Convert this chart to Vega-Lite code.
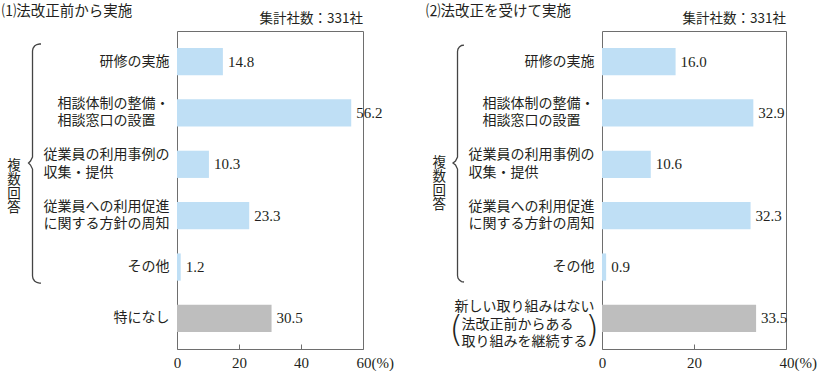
{
  "$schema": "https://vega.github.io/schema/vega-lite/v6.json",
  "padding": {"left": 1, "top": 3, "right": 0, "bottom": 0},
  "spacing": 31,
  "datasets": {
    "leftBars": [
      {"cat": "研修の実施", "value": 14.8, "kind": "multi"},
      {"cat": "相談体制の整備・|相談窓口の設置\u3000\u200b", "value": 56.2, "kind": "multi"},
      {"cat": "従業員の利用事例の|収集・提供\u3000\u3000\u3000\u3000\u200b", "value": 10.3, "kind": "multi"},
      {"cat": "従業員への利用促進|に関する方針の周知", "value": 23.3, "kind": "multi"},
      {"cat": "その他", "value": 1.2, "kind": "multi"},
      {"cat": "特になし", "value": 30.5, "kind": "none"}
    ],
    "rightBars": [
      {"cat": "研修の実施", "value": 16.0, "kind": "multi"},
      {"cat": "相談体制の整備・|相談窓口の設置\u3000\u200b", "value": 32.9, "kind": "multi"},
      {"cat": "従業員の利用事例の|収集・提供\u3000\u3000\u3000\u3000\u200b", "value": 10.6, "kind": "multi"},
      {"cat": "従業員への利用促進|に関する方針の周知", "value": 32.3, "kind": "multi"},
      {"cat": "その他", "value": 0.9, "kind": "multi"},
      {"cat": "新しい取り組みはない|法改正前からある\u3000\u2002\u200b|取り組みを継続する\u2002\u200b", "value": 33.5, "kind": "none"}
    ],
    "leftBrace": [
      {"i": 1, "x": -43.87, "y": 0.658},
      {"i": 2, "x": -44.35, "y": 0.658},
      {"i": 3, "x": -45.22, "y": 0.668},
      {"i": 4, "x": -45.95, "y": 0.698},
      {"i": 5, "x": -46.44, "y": 0.742},
      {"i": 6, "x": -46.61, "y": 0.794},
      {"i": 7, "x": -46.61, "y": 2.858},
      {"i": 8, "x": -47.26, "y": 2.936},
      {"i": 9, "x": -47.90, "y": 2.975},
      {"i": 10, "x": -47.26, "y": 3.014},
      {"i": 11, "x": -46.61, "y": 3.092},
      {"i": 12, "x": -46.61, "y": 5.174},
      {"i": 13, "x": -46.44, "y": 5.227},
      {"i": 14, "x": -45.95, "y": 5.271},
      {"i": 15, "x": -45.22, "y": 5.300},
      {"i": 16, "x": -44.35, "y": 5.311},
      {"i": 17, "x": -43.87, "y": 5.311}
    ],
    "rightBrace": [
      {"i": 1, "x": -30.0, "y": 0.678},
      {"i": 2, "x": -30.54, "y": 0.687},
      {"i": 3, "x": -31.0, "y": 0.715},
      {"i": 4, "x": -31.31, "y": 0.756},
      {"i": 5, "x": -31.41, "y": 0.804},
      {"i": 6, "x": -31.41, "y": 2.858},
      {"i": 7, "x": -31.85, "y": 2.936},
      {"i": 8, "x": -32.39, "y": 2.975},
      {"i": 9, "x": -31.85, "y": 3.014},
      {"i": 10, "x": -31.41, "y": 3.092},
      {"i": 11, "x": -31.41, "y": 5.165},
      {"i": 12, "x": -31.31, "y": 5.213},
      {"i": 13, "x": -31.0, "y": 5.254},
      {"i": 14, "x": -30.54, "y": 5.282},
      {"i": 15, "x": -30.0, "y": 5.291}
    ],
    "leftNote": [{"t": "複\n数\n回\n答", "x": -52.6, "y": 3.03}],
    "rightNote": [{"t": "複\n数\n回\n答", "x": -35.4, "y": 2.965}],
    "rightParens": [
      {"t": "(", "x": -31.7, "y": 6.225},
      {"t": ")", "x": -2.17, "y": 6.225}
    ]
  },
  "hconcat": [
    {
      "title": {"text": "⑴法改正前から実施", "anchor": "start", "frame": "bounds", "dx": -5, "fontSize": 14.5, "offset": -8},
      "hconcat": [
        {
          "width": 186,
          "height": 318,
          "title": {"text": "集計社数：331社", "anchor": "end", "frame": "group", "fontSize": 13.5, "offset": 6},
          "layer": [
            {
              "data": {"name": "leftBars"},
              "layer": [
                {
                  "mark": {"type": "bar"},
                  "encoding": {
                    "y": {"field": "cat", "type": "nominal", "sort": null,
                      "scale": {"paddingInner": 0.47, "paddingOuter": 0.33},
                      "axis": {"title": null, "domain": false, "ticks": false, "labelExpr": "split(datum.label, '|')",
                        "labelFontSize": 14, "labelFont": "Noto Sans CJK JP", "labelLineHeight": 17.5, "labelPadding": 8, "labelLimit": 0,
                        "labelOffset": {"condition": {"test": "indexof(datum.value, '|') >= 0", "value": -9}, "value": 0}}},
                    "x": {"field": "value", "type": "quantitative", "scale": {"domain": [0, 60], "nice": false},
                      "axis": {"title": null, "values": [0, 20, 40, 60], "domain": false, "grid": false, "tickSize": -5, "tickColor": "#6e6e6e",
                        "labelExpr": "datum.value == 60 ? '60(%)' : datum.label",
                        "labelAlign": {"condition": {"test": "datum.value == 60", "value": "left"}, "value": "center"},
                        "labelOffset": {"condition": {"test": "datum.value == 60", "value": -7}, "value": 0},
                        "labelFont": "Liberation Sans Narrow", "labelFontSize": 15, "labelPadding": 11, "labelFlush": false}},
                    "color": {"field": "kind", "type": "nominal", "scale": {"domain": ["multi", "none"], "range": ["#bfdff5", "#bebebe"]}, "legend": null}
                  }
                },
                {
                  "mark": {"type": "text", "align": "left", "baseline": "middle", "dx": 5, "font": "Liberation Sans Narrow", "fontSize": 15},
                  "encoding": {
                    "y": {"field": "cat", "type": "nominal", "sort": null},
                    "x": {"field": "value", "type": "quantitative"},
                    "text": {"field": "value", "type": "quantitative", "format": ".1f"}
                  }
                }
              ]
            },
            {
              "layer": [
                {
                  "data": {"name": "leftBrace"},
                  "mark": {"type": "line", "stroke": "#444444", "strokeWidth": 1.3},
                  "encoding": {
                    "x": {"field": "x", "type": "quantitative", "scale": {"domain": [0, 60], "nice": false}, "axis": null},
                    "y": {"field": "y", "type": "quantitative", "scale": {"domain": [0.405, 6.595], "reverse": true, "nice": false, "zero": false}, "axis": null},
                    "order": {"field": "i", "type": "quantitative"}
                  }
                },
                {
                  "data": {"name": "leftNote"},
                  "mark": {"type": "text", "align": "center", "baseline": "middle", "lineBreak": "\n", "lineHeight": 14, "fontSize": 13.5, "font": "Noto Sans CJK JP"},
                  "encoding": {
                    "x": {"field": "x", "type": "quantitative"},
                    "y": {"field": "y", "type": "quantitative"},
                    "text": {"field": "t"}
                  }
                }
              ]
            }
          ],
          "resolve": {"scale": {"x": "independent", "y": "independent"}}
        }
      ]
    },
    {
      "title": {"text": "⑵法改正を受けて実施", "anchor": "start", "frame": "bounds", "dx": -6, "fontSize": 14.5, "offset": -8},
      "hconcat": [
        {
          "width": 184,
          "height": 318,
          "title": {"text": "集計社数：331社", "anchor": "end", "frame": "group", "fontSize": 13.5, "offset": 6},
          "layer": [
            {
              "data": {"name": "rightBars"},
              "layer": [
                {
                  "mark": {"type": "bar"},
                  "encoding": {
                    "y": {"field": "cat", "type": "nominal", "sort": null,
                      "scale": {"paddingInner": 0.47, "paddingOuter": 0.33},
                      "axis": {"title": null, "domain": false, "ticks": false, "labelExpr": "split(datum.label, '|')",
                        "labelFontSize": 14, "labelFont": "Noto Sans CJK JP", "labelLineHeight": 17.5, "labelPadding": 8, "labelLimit": 0,
                        "labelOffset": {"condition": [
                          {"test": "indexof(datum.value, '新しい') >= 0", "value": -11},
                          {"test": "indexof(datum.value, '|') >= 0", "value": -9}
                        ], "value": 0}}},
                    "x": {"field": "value", "type": "quantitative", "scale": {"domain": [0, 40], "nice": false},
                      "axis": {"title": null, "values": [0, 20, 40], "domain": false, "grid": false, "tickSize": -5, "tickColor": "#6e6e6e",
                        "labelExpr": "datum.value == 40 ? '40(%)' : datum.label",
                        "labelAlign": {"condition": {"test": "datum.value == 40", "value": "left"}, "value": "center"},
                        "labelOffset": {"condition": {"test": "datum.value == 40", "value": -7}, "value": 0},
                        "labelFont": "Liberation Sans Narrow", "labelFontSize": 15, "labelPadding": 11, "labelFlush": false}},
                    "color": {"field": "kind", "type": "nominal", "scale": {"domain": ["multi", "none"], "range": ["#bfdff5", "#bebebe"]}, "legend": null}
                  }
                },
                {
                  "mark": {"type": "text", "align": "left", "baseline": "middle", "dx": 5, "font": "Liberation Sans Narrow", "fontSize": 15},
                  "encoding": {
                    "y": {"field": "cat", "type": "nominal", "sort": null},
                    "x": {"field": "value", "type": "quantitative"},
                    "text": {"field": "value", "type": "quantitative", "format": ".1f"}
                  }
                }
              ]
            },
            {
              "layer": [
                {
                  "data": {"name": "rightBrace"},
                  "mark": {"type": "line", "stroke": "#444444", "strokeWidth": 1.3},
                  "encoding": {
                    "x": {"field": "x", "type": "quantitative", "scale": {"domain": [0, 40], "nice": false}, "axis": null},
                    "y": {"field": "y", "type": "quantitative", "scale": {"domain": [0.405, 6.595], "reverse": true, "nice": false, "zero": false}, "axis": null},
                    "order": {"field": "i", "type": "quantitative"}
                  }
                },
                {
                  "data": {"name": "rightNote"},
                  "mark": {"type": "text", "align": "center", "baseline": "middle", "lineBreak": "\n", "lineHeight": 14.3, "fontSize": 13.5, "font": "Noto Sans CJK JP"},
                  "encoding": {
                    "x": {"field": "x", "type": "quantitative"},
                    "y": {"field": "y", "type": "quantitative"},
                    "text": {"field": "t"}
                  }
                },
                {
                  "data": {"name": "rightParens"},
                  "mark": {"type": "text", "align": "center", "baseline": "middle", "fontSize": 36, "font": "DejaVu Sans", "fontWeight": 200},
                  "encoding": {
                    "x": {"field": "x", "type": "quantitative"},
                    "y": {"field": "y", "type": "quantitative"},
                    "text": {"field": "t"}
                  }
                }
              ]
            }
          ],
          "resolve": {"scale": {"x": "independent", "y": "independent"}}
        }
      ]
    }
  ],
  "resolve": {"scale": {"x": "independent", "y": "independent"}},
  "config": {
    "view": {"stroke": "#6e6e6e", "strokeWidth": 1},
    "font": "Noto Sans CJK JP",
    "text": {"color": "#231f20"},
    "axis": {"labelColor": "#231f20"},
    "title": {"color": "#231f20", "fontWeight": "normal", "font": "Noto Sans CJK JP"}
  }
}
